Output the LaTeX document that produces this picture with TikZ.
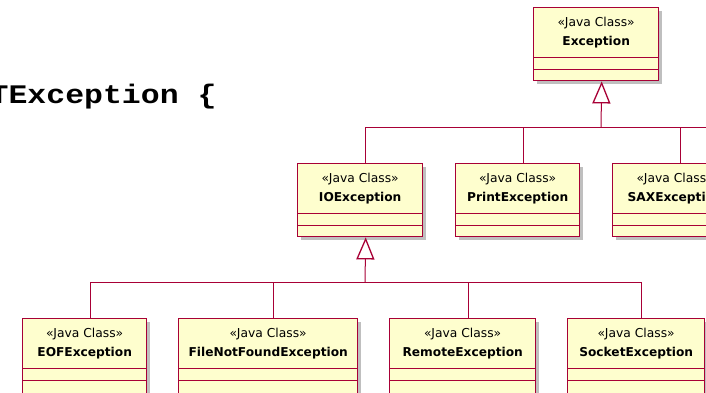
\documentclass[tikz,border=0pt]{standalone}
\usepackage{fontspec}
\setmainfont{DejaVu Sans}
\newfontfamily\codefont{Liberation Mono}
\usetikzlibrary{arrows.meta,shadows}

\definecolor{umlred}{HTML}{A80036}
\definecolor{umlfill}{HTML}{FEFECE}

\tikzset{
  classbox/.style={draw=umlred, line width=1.4pt, fill=umlfill, inner sep=0pt,
    anchor=north west, minimum height=73pt,
    drop shadow={shadow xshift=3pt, shadow yshift=-3pt, opacity=0.25, fill=black}},
  stereo/.style={inner sep=0pt, font=\fontsize{12.3}{14}\selectfont},
  cname/.style={inner sep=0pt, font=\fontsize{12.2}{14}\selectfont\bfseries},
  sepline/.style={color=umlred, line width=1pt},
  link/.style={color=umlred, line width=1pt},
  inherits/.style={link, -{Triangle[length=22pt, width=18pt, fill=white, line width=1.3pt]}},
}

\begin{document}
\begin{tikzpicture}[x=1pt, y=-1pt]
  \fill[white] (0,0) rectangle (706,392);
  \useasboundingbox (0,0) rectangle (706,392);

  % code line behind the diagram
  \node[anchor=base west, inner sep=0pt, font=\codefont\bfseries\fontsize{31.5}{36}\selectfont]
    (code) at (-10.5,103) {\scalebox{1}[0.85]{TException \{}};

  % classes
  \foreach \n/\x/\y/\w/\h/\lbl in {
      exc/533/7/125/73/Exception,
      io/297/163/125/73/IOException,
      print/455/163/124/73/PrintException,
      sax/612/163/125/73/SAXException,
      eof/22/318/124/80/EOFException,
      fnf/178/318/179/80/FileNotFoundException,
      remote/389/318/146/80/RemoteException,
      socket/567/318/137/80/SocketException}{
    \node[classbox, minimum width=\w pt, minimum height=\h pt] (\n) at (\x,\y) {};
    \node[stereo] (\n-st) at ([yshift=-16pt]\n.north) {«Java Class»};
    \node[cname] (\n-nm) at ([yshift=-35pt]\n.north) {\lbl};
    \draw[sepline] ([yshift=-50pt]\n.north west) -- ([yshift=-50pt]\n.north east);
    \draw[sepline] ([yshift=-62pt]\n.north west) -- ([yshift=-62pt]\n.north east);
  }

  % Exception and its subclasses
  \coordinate (busA) at (601,127);
  \coordinate (busAend) at (712,127);
  \draw[inherits] (busA) -- ([xshift=5.5pt]exc.south);
  \draw[link] ([xshift=5.5pt]io.north) |- (busAend);
  \draw[link] ([xshift=5.5pt]print.north) -- ++(0,-36);
  \draw[link] ([xshift=5.5pt]sax.north) -- ++(0,-36);

  % IOException and its subclasses
  \coordinate (busB) at (365,282);
  \draw[inherits] (busB) -- ([xshift=5.5pt]io.south);
  \draw[link] ([xshift=5.5pt]eof.north) |- ([xshift=5.5pt,yshift=36pt]socket.north) -- ([xshift=5.5pt]socket.north);
  \draw[link] ([xshift=5.5pt]fnf.north) -- ++(0,-36);
  \draw[link] ([xshift=5.5pt]remote.north) -- ++(0,-36);
\end{tikzpicture}
\end{document}
